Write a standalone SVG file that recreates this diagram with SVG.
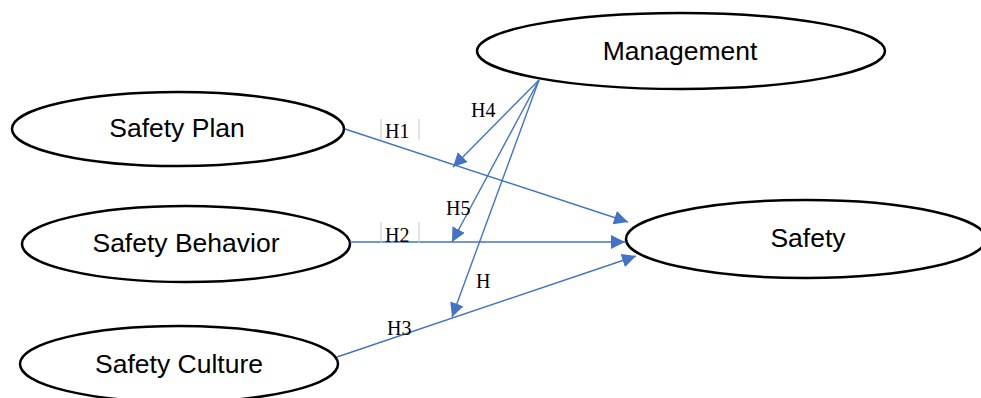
<svg xmlns="http://www.w3.org/2000/svg" width="981" height="398" viewBox="0 0 981 398">
<style>
.node{fill:#fff;stroke:#000;stroke-width:2.5}
.nt{font-family:"Liberation Sans",Arial,sans-serif;font-size:26.5px;fill:#000;text-anchor:middle}
.c{stroke:#4472C4;stroke-width:1.4;fill:none}
.lb{font-family:"Liberation Serif","Times New Roman",serif;font-size:20px;fill:#000}
.bar{stroke:#c8c8c8;stroke-width:1}
</style>
<defs>
<marker id="ah" viewBox="0 0 10 10" refX="10" refY="5" markerWidth="14" markerHeight="14" markerUnits="userSpaceOnUse" orient="auto">
<path d="M0,0 L10,5 L0,10 z" fill="#4472C4"/>
</marker>
</defs>
<rect width="981" height="398" fill="#fff"/>
<g id="management"><ellipse class="node" cx="681" cy="51" rx="204" ry="38"/><text class="nt" x="680" y="60">Management</text></g>
<g id="safety"><ellipse class="node" cx="806" cy="239" rx="180" ry="39"/><text class="nt" x="808" y="247">Safety</text></g>
<g id="safety-plan"><ellipse class="node" cx="178" cy="129" rx="166" ry="37"/><text class="nt" x="177" y="137">Safety Plan</text></g>
<g id="safety-behavior"><ellipse class="node" cx="186" cy="244" rx="164" ry="38"/><text class="nt" x="186" y="252">Safety Behavior</text></g>
<g id="safety-culture"><ellipse class="node" cx="179" cy="364" rx="159" ry="38"/><text class="nt" x="179" y="373">Safety Culture</text></g>
<g id="connectors">
<line class="c" x1="345" y1="129" x2="628" y2="222" marker-end="url(#ah)"/>
<line class="c" x1="350" y1="242" x2="625" y2="242" marker-end="url(#ah)"/>
<line class="c" x1="337" y1="357" x2="636" y2="256" marker-end="url(#ah)"/>
<line class="c" x1="539" y1="80" x2="453" y2="167" marker-end="url(#ah)"/>
<line class="c" x1="539" y1="80" x2="452" y2="242" marker-end="url(#ah)"/>
<line class="c" x1="539" y1="80" x2="452" y2="317" marker-end="url(#ah)"/>
</g>
<g id="labels">
<line class="bar" x1="381" y1="119" x2="381" y2="140"/><line class="bar" x1="419" y1="119" x2="419" y2="140"/>
<line class="bar" x1="381" y1="222" x2="381" y2="243"/><line class="bar" x1="419" y1="222" x2="419" y2="243"/>
<text class="lb" x="385" y="138">H1</text>
<text class="lb" x="385" y="242">H2</text>
<text class="lb" x="387" y="335">H3</text>
<text class="lb" x="471" y="117">H4</text>
<text class="lb" x="446" y="215">H5</text>
<text class="lb" x="476" y="288">H</text>
</g>
</svg>
